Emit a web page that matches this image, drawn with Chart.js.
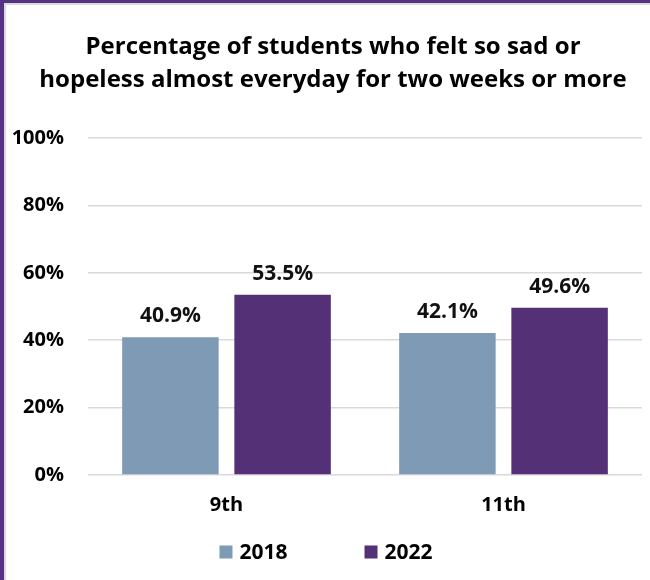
<!DOCTYPE html>
<html>
<head>
<meta charset="utf-8">
<script src="https://cdn.jsdelivr.net/npm/chart.js@4.4.1/dist/chart.umd.min.js"></script>
<style>
  html, body { margin: 0; padding: 0; background: #fff; }
  #wrap { position: relative; width: 650px; height: 580px; overflow: hidden; background: #fff; }
  .bt { position: absolute; left: 0; top: 0; width: 650px; height: 3px; background: #553282; }
  .bl { position: absolute; left: 0; top: 0; width: 4px; height: 580px; background: #553282; }
  .gt { position: absolute; left: 4px; top: 3px; width: 646px; height: 2px; background: #d9d9d9; }
  .gl { position: absolute; left: 4px; top: 3px; width: 2px; height: 577px; background: #d9d9d9; }
  #c { position: absolute; left: 0; top: 0; }
</style>
</head>
<body>
<div id="wrap">
  <div class="bt"></div><div class="bl"></div><div class="gt"></div><div class="gl"></div>
  <canvas id="c" width="650" height="580"></canvas>
</div>
<script>
const categories = ["9th", "11th"];
const seriesNames = ["2018", "2022"];
const values2018 = [40.9, 42.1];
const values2022 = [53.5, 49.6];
const yTicks = [0, 20, 40, 60, 80, 100];
const titleLines = ["Percentage of students who felt so sad or", "hopeless almost everyday for two weeks or more"];
const seriesColors = ["#7F9AB4", "#543176"];

const FONT = "'Open Sans', sans-serif";

const valueLabels = {
  id: 'valueLabels',
  afterDatasetsDraw(chart) {
    const ctx = chart.ctx;
    ctx.save();
    ctx.font = "bold 21px " + FONT;
    ctx.fillStyle = "#111";
    ctx.textAlign = "center";
    ctx.textBaseline = "middle";
    chart.data.datasets.forEach((ds, i) => {
      chart.getDatasetMeta(i).data.forEach((bar, j) => {
        ctx.fillText(ds.data[j].toFixed(1) + "%", bar.x, bar.y - 21);
      });
    });
    ctx.restore();
  }
};

const bottomLegend = {
  id: 'bottomLegend',
  afterDraw(chart) {
    const ctx = chart.ctx;
    ctx.save();
    ctx.font = "bold 21px " + FONT;
    ctx.textBaseline = "middle";
    ctx.textAlign = "left";
    const box = 13, gap = 7, spacing = 77;
    const items = chart.data.datasets.map(ds => ({ text: ds.label, color: ds.backgroundColor, w: ctx.measureText(ds.label).width }));
    let total = 0;
    items.forEach((it, i) => { total += box + gap + it.w + (i ? spacing : 0); });
    let x = 326 - total / 2;
    const y = 552;
    items.forEach(it => {
      ctx.fillStyle = it.color;
      ctx.fillRect(x, y - box / 2, box, box);
      ctx.fillStyle = "#000";
      ctx.fillText(it.text, x + box + gap, y + 1);
      x += box + gap + it.w + spacing;
    });
    ctx.restore();
  }
};

const titleShift = {
  id: 'titleShift',
  afterLayout(chart) {
    if (chart.titleBlock) { chart.titleBlock.left += 7; chart.titleBlock.right += 7; }
  }
};

new Chart(document.getElementById('c'), {
  type: 'bar',
  data: {
    labels: categories,
    datasets: [
      { label: seriesNames[0], data: values2018, backgroundColor: seriesColors[0] },
      { label: seriesNames[1], data: values2022, backgroundColor: seriesColors[1] }
    ]
  },
  options: {
    responsive: false,
    animation: false,
    categoryPercentage: 0.81,
    barPercentage: 0.86,
    layout: { padding: { left: 10, right: 8, top: 18, bottom: 45 } },
    plugins: {
      title: {
        display: true,
        text: titleLines,
        color: "#000",
        font: { family: FONT, size: 24, weight: "bold", lineHeight: 1.375 },
        padding: { top: 13, bottom: 41 }
      },
      legend: { display: false },
      tooltip: { enabled: false }
    },
    scales: {
      x: {
        grid: { display: false, drawTicks: false },
        border: { display: false },
        ticks: { color: "#000", padding: 18, font: { family: FONT, size: 20, weight: "bold" } }
      },
      y: {
        min: 0, max: 100,
        afterBuildTicks(scale) { scale.ticks = yTicks.map(v => ({ value: v })); },
        afterFit(scale) { scale.width = 78; },
        grid: { color: "#d9d9d9", lineWidth: 1.5, drawTicks: false },
        border: { display: false },
        ticks: {
          color: "#000", padding: 24,
          font: { family: FONT, size: 20, weight: "bold" },
          callback: v => v + "%"
        }
      }
    }
  },
  plugins: [valueLabels, bottomLegend, titleShift]
});
</script>
</body>
</html>
